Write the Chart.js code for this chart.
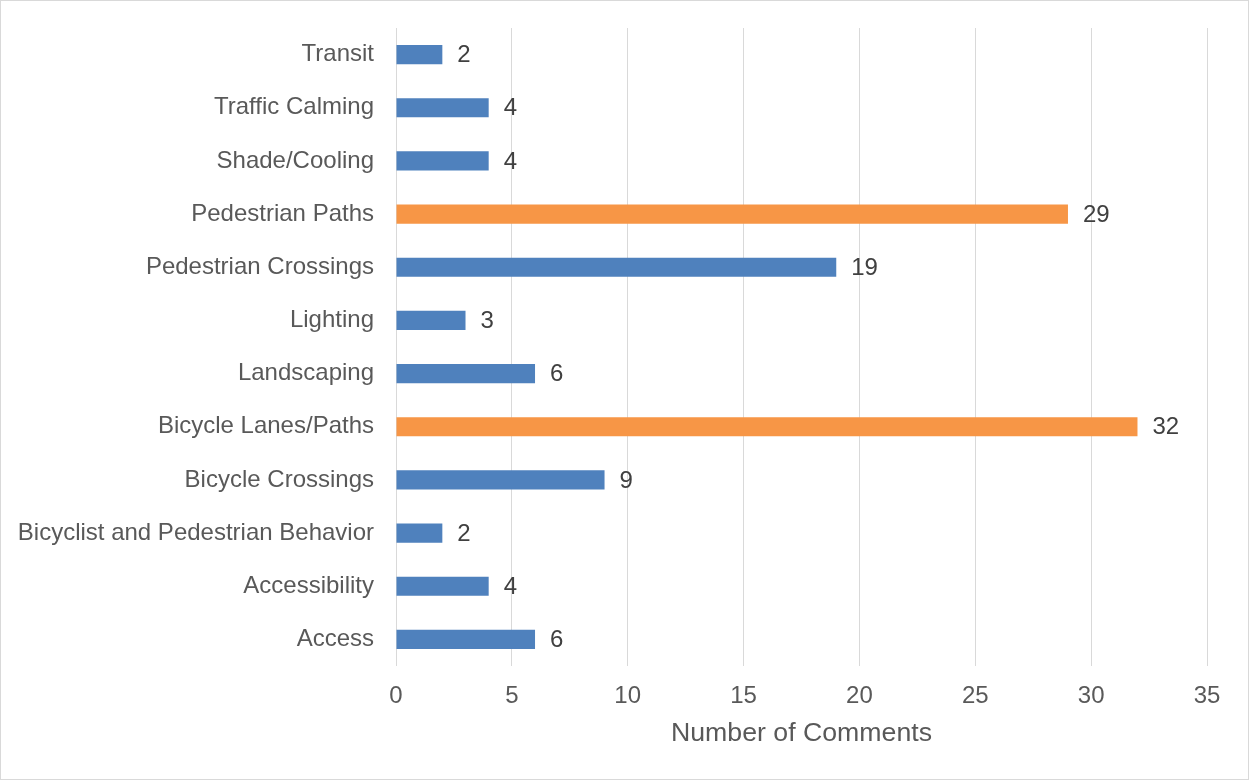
<!DOCTYPE html>
<html>
<head>
<meta charset="utf-8">
<script src="https://cdn.jsdelivr.net/npm/chart.js@4.4.0/dist/chart.umd.min.js"></script>
<style>
html,body{margin:0;padding:0;background:#fff;}
#wrap{width:1249px;height:780px;position:relative;}
</style>
</head>
<body>
<div id="wrap"><canvas id="c" width="1249" height="780"></canvas></div>
<script>
const categories = ["Transit","Traffic Calming","Shade/Cooling","Pedestrian Paths","Pedestrian Crossings","Lighting","Landscaping","Bicycle Lanes/Paths","Bicycle Crossings","Bicyclist and Pedestrian Behavior","Accessibility","Access"];
const comments = [2,4,4,29,19,3,6,32,9,2,4,6];
const highlighted = ["Pedestrian Paths","Bicycle Lanes/Paths"];
const xTicks = [0,5,10,15,20,25,30,35];
const axisTitle = "Number of Comments";

const BLUE = "#4F81BD", ORANGE = "#F79646";
const FONT = "'Liberation Sans', Arial, sans-serif";

const bgBorder = {
  id: "bgBorder",
  beforeDraw(chart){
    const ctx = chart.ctx;
    ctx.save();
    ctx.fillStyle = "#fff";
    ctx.fillRect(0,0,chart.width,chart.height);
    ctx.strokeStyle = "#d9d9d9";
    ctx.lineWidth = 1;
    ctx.strokeRect(0.5,0.5,chart.width-1,chart.height-1);
    ctx.restore();
  }
};
const valueLabels = {
  id: "valueLabels",
  afterDatasetsDraw(chart){
    const ctx = chart.ctx;
    const meta = chart.getDatasetMeta(0);
    const data = chart.data.datasets[0].data;
    ctx.save();
    ctx.font = "24px " + FONT;
    ctx.fillStyle = "#404040";
    ctx.textBaseline = "middle";
    ctx.textAlign = "left";
    meta.data.forEach((bar,i)=>{
      ctx.fillText(String(data[i]), bar.x + 15, bar.y + 1);
    });
    ctx.restore();
  }
};

new Chart(document.getElementById("c"), {
  type: "bar",
  data: {
    labels: categories,
    datasets: [{
      data: comments,
      backgroundColor: categories.map(c => highlighted.includes(c) ? ORANGE : BLUE),
      borderWidth: 0,
      barPercentage: 0.36,
      categoryPercentage: 1
    }]
  },
  options: {
    indexAxis: "y",
    responsive: false,
    animation: false,
    devicePixelRatio: 1,
    layout: { padding: { left: 0, right: 42, top: 28, bottom: 0 } },
    plugins: { legend: { display: false }, tooltip: { enabled: false } },
    scales: {
      x: {
        type: "linear",
        min: 0, max: 35,
        afterBuildTicks(scale){ scale.ticks = xTicks.map(v => ({value: v})); },
        grid: { color: "#d9d9d9", lineWidth: 1, drawTicks: false },
        border: { display: false },
        ticks: { color: "#595959", font: { family: FONT, size: 24 }, padding: 16 },
        title: { display: true, text: axisTitle, color: "#595959", font: { family: FONT, size: 26.7 }, padding: { top: 8, bottom: 30 } },
        afterFit(scale){ scale.height = 780 - 666; }
      },
      y: {
        grid: { display: false, drawTicks: false },
        border: { display: false },
        ticks: { color: "#595959", font: { family: FONT, size: 24 }, padding: 22, autoSkip: false },
        afterFit(scale){ scale.width = 396; scale.paddingTop = 0; scale.paddingBottom = 0; }
      }
    }
  },
  plugins: [bgBorder, valueLabels]
});
</script>
</body>
</html>
